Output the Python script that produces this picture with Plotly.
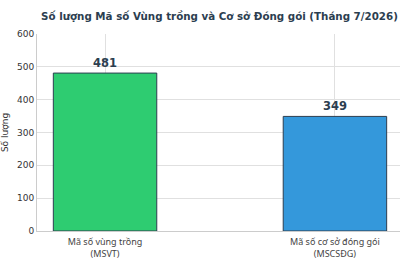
import plotly.graph_objects as go

categories = ["Mã số vùng trồng<br>(MSVT)", "Mã số cơ sở đóng gói<br>(MSCSĐG)"]
values = [481, 349]
colors = ["#2ecc71", "#3498db"]
y_ticks = [0, 100, 200, 300, 400, 500, 600]
title = "Số lượng Mã số Vùng trồng và Cơ sở Đóng gói (Tháng 7/2026)"

x = list(range(len(categories)))
fig = go.Figure()
fig.add_trace(go.Bar(
    x=x, y=values, width=0.45,
    marker=dict(color=colors, line=dict(color="#2c3e50", width=1)),
    text=[str(v) for v in values], textposition="outside",
    textfont=dict(family="DejaVu Sans", size=11.5, color="#2c3e50"),
    cliponaxis=False,
))
fig.update_traces(texttemplate="<b>%{text}</b>")
fig.update_layout(
    width=400, height=266,
    margin=dict(l=37, r=0, t=34, b=35),
    paper_bgcolor="white", plot_bgcolor="white",
    showlegend=False,
    title=dict(text="<b>" + title + "</b>", x=(41 + 398) / 2 / 400, xanchor="center",
               y=1 - 16 / 266, yanchor="middle",
               font=dict(family="DejaVu Sans", size=10.3, color="#2c3e50")),
    font=dict(family="DejaVu Sans", size=9, color="#333333"),
)
fig.update_xaxes(
    range=[-0.296, 1.283], tickvals=x, ticktext=categories,
    showgrid=True, gridcolor="#e0e0e0", gridwidth=1,
    showline=True, linecolor="#cccccc", ticks="outside", ticklen=2, tickcolor="rgba(0,0,0,0)",
    zeroline=False,
    tickfont=dict(family="Noto Sans", size=9, color="#444444"),
)
fig.update_yaxes(
    range=[0, 600], tickvals=y_ticks,
    showgrid=True, gridcolor="#e0e0e0", gridwidth=1,
    showline=True, linecolor="#cccccc", ticks="", zeroline=False,
    title=dict(text="Số lượng", standoff=8, font=dict(size=9, color="#333333")),
    tickfont=dict(family="DejaVu Sans", size=9, color="#333333"),
)
fig.write_html("out.html")
